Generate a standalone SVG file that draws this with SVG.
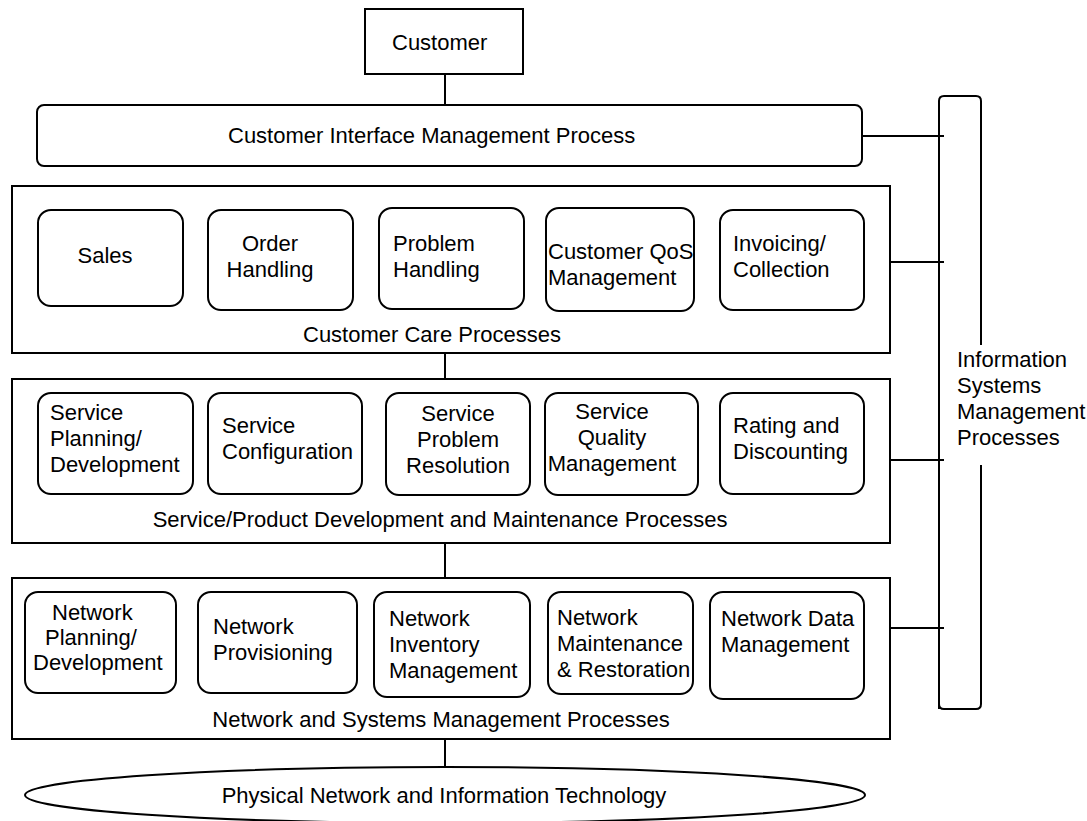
<svg xmlns="http://www.w3.org/2000/svg" width="1087" height="821" viewBox="0 0 1087 821">
<style>
.b{fill:#fff;stroke:#000;stroke-width:2}
.l{fill:none;stroke:#000;stroke-width:2}
text{font-family:"Liberation Sans",Arial,sans-serif;font-size:22px;fill:#000}
.m{text-anchor:middle}
</style>
<rect width="1087" height="821" fill="#fff"/>
<g id="connectors">
<line class="l" x1="445" y1="74" x2="445" y2="105"/>
<line class="l" x1="445" y1="353" x2="445" y2="379"/>
<line class="l" x1="445" y1="543" x2="445" y2="578"/>
<line class="l" x1="445" y1="739" x2="445" y2="767"/>
<line class="l" x1="862" y1="136" x2="944" y2="136"/>
<line class="l" x1="890" y1="262" x2="944" y2="262"/>
<line class="l" x1="890" y1="460" x2="944" y2="460"/>
<line class="l" x1="890" y1="628" x2="944" y2="628"/>
</g>
<g id="customer">
<rect class="b" x="365" y="9" width="158" height="65"/>
<text x="392" y="50">Customer</text>
</g>
<g id="cimp">
<rect class="b" x="37" y="105" width="825" height="61" rx="7"/>
<text x="228" y="143">Customer Interface Management Process</text>
</g>
<g id="ism">
<path class="l" d="M939 709 V101 Q939 96 944 96 H976 Q981 96 981 101 V345 M981 465 V704 Q981 709 976 709 H944 Q939 709 939 704"/>
<text x="957" y="367">Information</text>
<text x="957" y="393">Systems</text>
<text x="957" y="419">Management</text>
<text x="957" y="445">Processes</text>
</g>
<g id="ccp">
<rect class="b" x="12" y="186" width="878" height="167"/>
<text class="m" x="432" y="342">Customer Care Processes</text>
</g>
<g id="sales">
<rect class="b" x="38" y="210" width="145" height="96" rx="13"/>
<text class="m" x="105" y="263">Sales</text>
</g>
<g id="order">
<rect class="b" x="208" y="210" width="145" height="100" rx="13"/>
<text class="m" x="270" y="251">Order</text>
<text class="m" x="270" y="277">Handling</text>
</g>
<g id="problem">
<rect class="b" x="379" y="208" width="145" height="101" rx="13"/>
<text x="393" y="251">Problem</text>
<text x="393" y="277">Handling</text>
</g>
<g id="qos">
<rect class="b" x="546" y="208" width="148" height="103" rx="13"/>
<text x="548" y="259">Customer QoS</text>
<text x="548" y="285">Management</text>
</g>
<g id="invoicing">
<rect class="b" x="720" y="210" width="144" height="100" rx="13"/>
<text x="733" y="251">Invoicing/</text>
<text x="733" y="277">Collection</text>
</g>
<g id="spdm">
<rect class="b" x="12" y="379" width="878" height="164"/>
<text class="m" x="440" y="527">Service/Product Development and Maintenance Processes</text>
</g>
<g id="splan">
<rect class="b" x="38" y="393" width="155" height="101" rx="13"/>
<text x="50" y="420">Service</text>
<text x="50" y="446">Planning/</text>
<text x="50" y="472">Development</text>
</g>
<g id="sconf">
<rect class="b" x="208" y="393" width="154" height="101" rx="13"/>
<text x="222" y="433">Service</text>
<text x="222" y="459">Configuration</text>
</g>
<g id="sprob">
<rect class="b" x="386" y="393" width="144" height="102" rx="13"/>
<text class="m" x="458" y="421">Service</text>
<text class="m" x="458" y="447">Problem</text>
<text class="m" x="458" y="473">Resolution</text>
</g>
<g id="squal">
<rect class="b" x="545" y="393" width="153" height="102" rx="13"/>
<text class="m" x="612" y="419">Service</text>
<text class="m" x="612" y="445">Quality</text>
<text class="m" x="612" y="471">Management</text>
</g>
<g id="rating">
<rect class="b" x="720" y="393" width="144" height="101" rx="13"/>
<text x="733" y="433">Rating and</text>
<text x="733" y="459">Discounting</text>
</g>
<g id="nsm">
<rect class="b" x="12" y="578" width="878" height="161"/>
<text class="m" x="441" y="727">Network and Systems Management Processes</text>
</g>
<g id="nplan">
<rect class="b" x="25" y="592" width="151" height="101" rx="13"/>
<text x="52" y="620">Network</text>
<text x="45" y="645">Planning/</text>
<text x="33" y="670">Development</text>
</g>
<g id="nprov">
<rect class="b" x="198" y="592" width="159" height="101" rx="13"/>
<text x="213" y="634">Network</text>
<text x="213" y="660">Provisioning</text>
</g>
<g id="ninv">
<rect class="b" x="374" y="592" width="156" height="105" rx="13"/>
<text x="389" y="626">Network</text>
<text x="389" y="652">Inventory</text>
<text x="389" y="678">Management</text>
</g>
<g id="nmaint">
<rect class="b" x="548" y="592" width="145" height="102" rx="13"/>
<text x="557" y="625">Network</text>
<text x="557" y="651">Maintenance</text>
<text x="557" y="677">&amp; Restoration</text>
</g>
<g id="ndata">
<rect class="b" x="710" y="592" width="154" height="107" rx="13"/>
<text x="721" y="626">Network Data</text>
<text x="721" y="652">Management</text>
</g>
<g id="physical">
<ellipse class="b" cx="445" cy="795" rx="420" ry="28"/>
<text class="m" x="444" y="803">Physical Network and Information Technology</text>
</g>
</svg>
